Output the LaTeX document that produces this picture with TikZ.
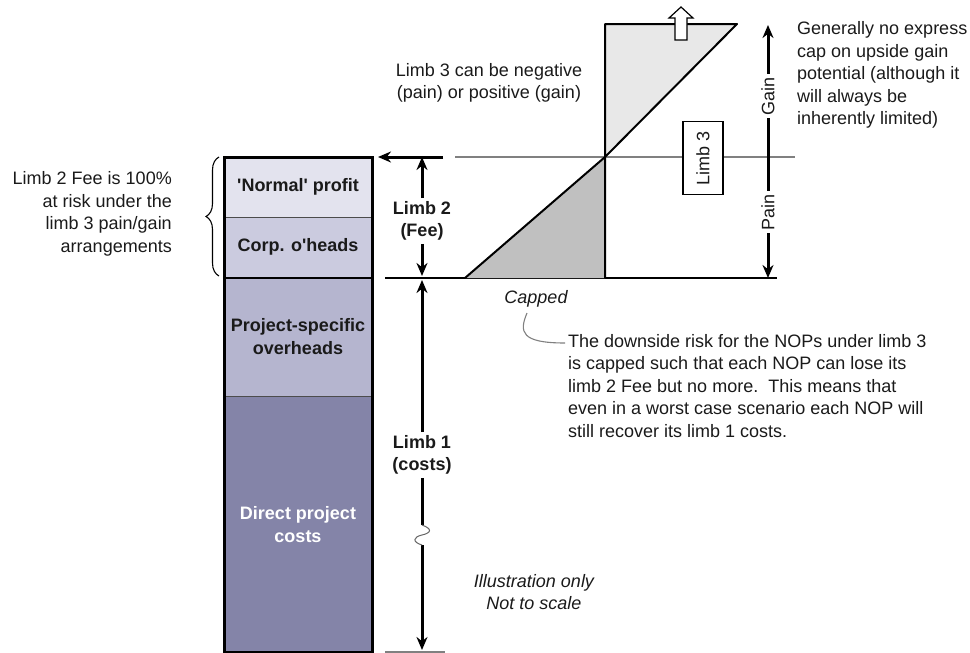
\documentclass[tikz,border=0pt]{standalone}
\usepackage{fontspec}
\setmainfont{Liberation Sans}[Ligatures=TeXOff]
\usetikzlibrary{arrows.meta,decorations.pathreplacing}
\definecolor{cNormal}{HTML}{E3E3EE}
\definecolor{cCorp}{HTML}{CBCBDF}
\definecolor{cProj}{HTML}{B5B5CF}
\definecolor{cDirect}{HTML}{8484A8}
\definecolor{cUp}{HTML}{E8E8E8}
\definecolor{cLow}{HTML}{C0C0C0}
\definecolor{ink}{HTML}{1A1A1A}
\definecolor{lgrey}{HTML}{808080}
\begin{document}
\begin{tikzpicture}[x=1pt,y=-1pt,
  txt/.style={font=\fontsize{18}{22.5}\selectfont, text=ink, inner sep=0pt},
  boldtxt/.style={font=\fontsize{18}{22.5}\selectfont\bfseries, text=ink, inner sep=0pt},
  ittxt/.style={font=\fontsize{18}{22.5}\selectfont\itshape, text=ink, inner sep=0pt},
  bigarrow/.style={line width=3pt, -{Stealth[length=13pt,width=11pt]}},
  thinline/.style={line width=1.2pt},
  greyline/.style={line width=1.1pt, draw=lgrey}]
\useasboundingbox (0,0) rectangle (970,653);

% ---- column ----
\fill[cNormal] (224,157) rectangle (372,217);
\fill[cCorp] (224,217) rectangle (372,278);
\fill[cProj] (224,278) rectangle (372,396);
\fill[cDirect] (224,396) rectangle (372,652);
\draw[line width=1pt, draw=black!70] (224,217) -- (372,217);
\draw[line width=2.5pt] (224,278) -- (372,278);
\draw[line width=1pt, draw=black!70] (224,396) -- (372,396);
\draw[line width=3pt] (224,157) rectangle (372,652);

\node[boldtxt] (np) at (298,187) {'Normal' profit};
\node[boldtxt] (corp) at (298,247) {Corp. o'heads};
\node[boldtxt, align=center] (proj) at (298,336.5) {Project-specific\\overheads};
\node[boldtxt, align=center, text=white] (direct) at (298,524.5) {Direct project\\costs};

% ---- left note with brace ----
\node[txt, align=right, anchor=east] (risk) at (172,214) {Limb 2 Fee is 100\%\\at risk under the\\limb 3 pain/gain\\arrangements};
\coordinate (bracebot) at (219,276);
\coordinate (bracetop) at (219,157);
\draw[line width=1.1pt, decorate, decoration={brace, amplitude=13pt}] (bracebot) -- (bracetop);

% ---- Limb 2 / Limb 1 ----
\coordinate (toparrowstart) at (443,157);
\coordinate (toparrowend) at (378,157);
\draw[bigarrow] (toparrowstart) -- (toparrowend);

\coordinate (l2top) at (422,157);
\coordinate (l2bot) at (422,276);
\node[boldtxt, align=center, inner sep=3pt] (l2) at (422,221) {Limb 2\\(Fee)};
\draw[bigarrow] (l2.north) -- (l2top);
\draw[bigarrow] (l2.south) -- (l2bot);

\coordinate (l1top) at (422,280);
\coordinate (l1bot) at (422,650);
\coordinate (zz1) at (422,525);
\coordinate (zz2) at (422,545);
\node[boldtxt, align=center, inner sep=3pt] (l1) at (422,455) {Limb 1\\(costs)};
\draw[bigarrow] (l1.north) -- (l1top);
\draw[line width=3pt] (l1.south) -- (zz1);
\draw[bigarrow] (zz2) -- (l1bot);
\draw[line width=1pt, draw=black!60] (zz1) .. controls (433,529) and (431,533) .. (422,535) .. controls (413,537) and (412,542) .. (zz2);

\coordinate (baseL) at (385,278);
\coordinate (baseR) at (777,278);
\draw[thinline] (baseL) -- (baseR);
\coordinate (botL) at (385,652);
\coordinate (botR) at (445,652);
\draw[greyline] (botL) -- (botR);

% ---- limb 3 graph ----
\coordinate (zeroL) at (455,157);
\coordinate (zeroR) at (795,157);
\coordinate (origin) at (605,157);
\coordinate (lowL) at (465,278);
\coordinate (lowR) at (605,278);
\coordinate (upL) at (605,24);
\coordinate (upR) at (737,24);
\fill[cUp] (upL) -- (upR) -- (origin) -- cycle;
\fill[cLow] (lowL) -- (lowR) -- (origin) -- cycle;
\draw[greyline] (zeroL) -- (zeroR);
\draw[line width=2pt, line join=round] (lowL) -- (origin) -- (upR) -- (upL) -- (lowR);

\draw[line width=1.2pt, fill=white] (675,40) -- (675,18) -- (669,18) -- (681,7) -- (693,18) -- (687,18) -- (687,40) -- cycle;

\node[txt, draw=black, line width=1.5pt, fill=white, rotate=90, minimum width=73pt, minimum height=40pt] (l3) at (703,158) {Limb 3};

\coordinate (gtop) at (768,25);
\coordinate (gbot) at (768,278);
\node[txt, rotate=90, inner sep=3pt] (gain) at (768,96) {Gain};
\node[txt, rotate=90, inner sep=3pt] (pain) at (768,212) {Pain};
\draw[bigarrow] (gain.east) -- (gtop);
\draw[line width=3pt] (gain.west) -- (pain.east);
\draw[bigarrow] (pain.west) -- (gbot);

\node[txt, align=center] (neg) at (489,83) {Limb 3 can be negative\\(pain) or positive (gain)};
\node[txt, align=left, anchor=west] (gen) at (797,75) {Generally no express\\cap on upside gain\\potential (although it\\will always be\\inherently limited)};

\node[ittxt] (capped) at (536,299) {Capped};
\node[txt, align=left, anchor=west] (down) at (568,386) {The downside risk for the NOPs under limb 3\\is capped such that each NOP can lose its\\limb 2 Fee but no more.\ \ This means that\\even in a worst case scenario each NOP will\\still recover its limb 1 costs.};
\coordinate (capA) at (527,313);
\coordinate (capB) at (565,343);
\draw[greyline] (capA) .. controls (519,332) and (521,343) .. (capB);

\node[ittxt, align=center] (ill) at (534,592) {Illustration only\\Not to scale};
\end{tikzpicture}
\end{document}
